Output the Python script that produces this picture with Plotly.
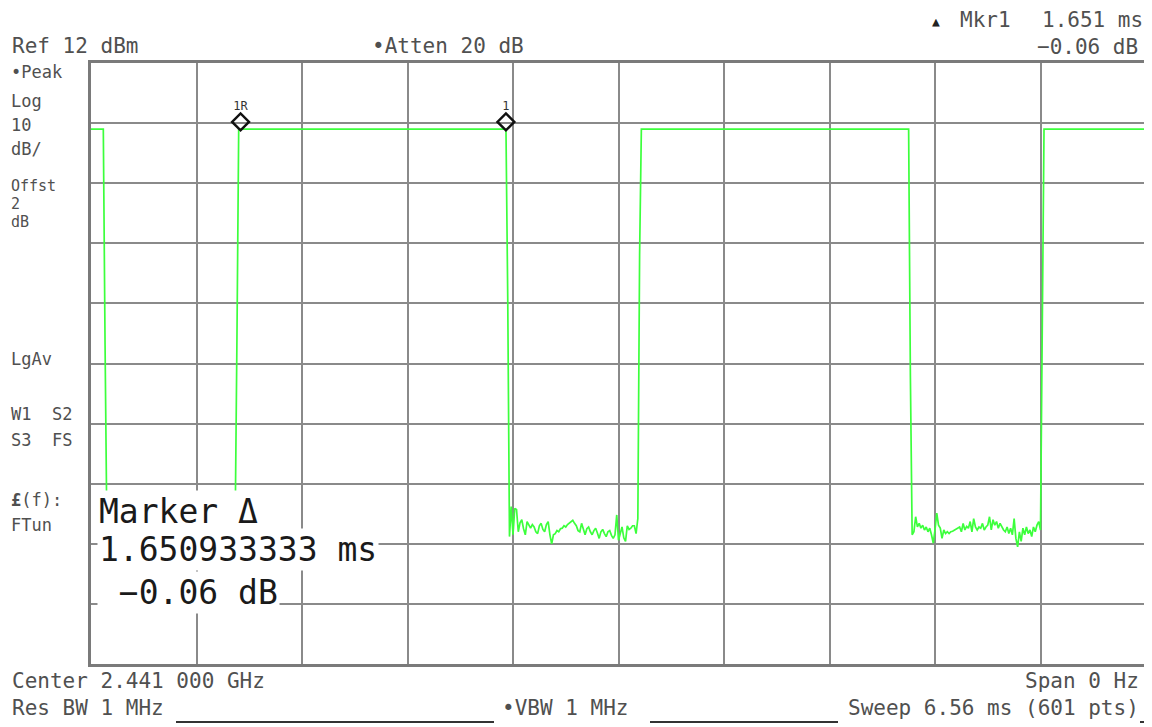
import plotly.graph_objects as go

# sweep settings
sweep_ms = 6.56
n_pts = 601
ref_dbm = 12
db_div = 10

# trace: flat parts and edges (sample index, dBm)
edge_idx = [0, 7, 8, 83, 84, 236, 237, 312, 313, 465, 466, 541, 542, 600]
edge_db = [1.0, 1.0, -35.0, -34.0, 1.0, 1.0, -27.0, -20.0, 1.0, 1.0, -40.0, -36.0, 1.0, 1.0]

# noise floor while the burst is off (start index, values)
noise1_start = 9
noise1_db = [-64.8, -65.9, -63.7, -66.2, -65.1, -64.4, -66.7, -65.3, -64.9, -65.8,
             -66.4, -64.2, -65.6, -67.0, -65.0, -64.6, -65.9, -66.3, -64.7, -65.4,
             -63.9, -66.1, -65.5, -64.8, -66.6, -65.2, -65.9, -64.3, -65.7, -66.9,
             -65.1, -64.5, -66.0, -65.3, -67.3, -64.9, -65.6, -66.2, -64.1, -65.8,
             -65.0, -66.5, -64.7, -65.4, -66.8, -65.2, -63.6, -65.9, -66.3, -64.8,
             -65.5, -66.0, -64.6, -65.3, -67.1, -65.7, -64.4, -66.2, -65.0, -65.8,
             -64.9, -66.4, -65.1, -63.9, -66.7, -65.5, -64.8, -66.1, -65.3, -64.5,
             -65.9, -66.6, -65.2, -64.7]
noise2_start = 238
noise2_db = [-66.8, -61.8, -66.5, -62.1, -62.3, -66.0, -64.5, -64.0, -65.5, -66.5,
             -64.3, -65.0, -65.4, -64.8, -65.2, -66.0, -66.3, -65.0, -64.6, -65.6,
             -66.0, -64.8, -64.3, -66.5, -68.0, -66.5, -66.3, -65.8, -66.0, -65.5,
             -65.4, -65.0, -65.2, -64.8, -64.6, -64.3, -64.1, -64.6, -65.0, -65.8,
             -66.0, -64.6, -65.6, -66.5, -65.5, -65.2, -66.0, -66.5, -65.8, -65.4,
             -66.2, -67.1, -66.0, -65.6, -66.3, -66.8, -66.0, -65.8, -66.6, -67.1,
             -66.5, -63.2, -67.4, -66.0, -65.2, -67.0, -67.6, -65.0, -65.6, -65.4,
             -65.0, -65.0, -66.3, -63.8]
noise3_start = 467
noise3_db = [-66.5, -66.0, -63.5, -65.2, -64.6, -65.4, -64.9, -65.7, -65.2, -66.0,
             -65.4, -66.5, -67.9, -65.7, -62.9, -64.9, -65.4, -67.1, -65.7, -66.3,
             -66.0, -66.3, -66.0, -65.9, -65.7, -65.6, -65.4, -65.2, -66.0, -64.6,
             -65.7, -65.1, -65.4, -64.3, -66.0, -63.8, -65.2, -65.7, -65.2, -65.4,
             -64.6, -65.7, -65.2, -64.9, -63.5, -65.7, -64.0, -64.9, -64.3, -65.4,
             -64.6, -65.2, -65.7, -66.0, -65.2, -66.3, -65.4, -66.5, -63.8, -67.1,
             -68.5, -66.0, -67.6, -65.4, -66.5, -65.2, -66.3, -65.7, -66.8, -65.2,
             -66.0, -64.9, -64.3, -65.7]

# markers
marker_t = [0.93, 2.58]
marker_db = [2.2, 2.2]
marker_lbl = ["1R", "1"]

pts = dict(zip(edge_idx, edge_db))
for start, vals in [(noise1_start, noise1_db), (noise2_start, noise2_db), (noise3_start, noise3_db)]:
    for k, v in enumerate(vals):
        pts[start + k] = v
idx = sorted(pts)
t = [i * sweep_ms / (n_pts - 1) for i in idx]
db = [pts[i] for i in idx]

# plot area in page pixels (page body has an 8px margin)
L, R, T, B = 91, 1146, 63, 664
W, H = 1152, 727
OFF = 8


def px(x):
    return (x - L) / (R - L)


def py(y):
    return (B - y) / (B - T)


fig = go.Figure()
fig.add_trace(go.Scatter(x=t, y=db, mode="lines",
                         line=dict(color="#3cff3c", width=1.7), hoverinfo="skip"))
fig.add_trace(go.Scatter(x=marker_t, y=marker_db, mode="markers+text",
                         text=marker_lbl, textposition="top center",
                         textfont=dict(family="DejaVu Sans Mono", size=12, color="#333"),
                         marker=dict(symbol="diamond-open", size=13, color="#111",
                                     line=dict(width=2.5, color="#111"))))

grey = "#505050"
mono = "DejaVu Sans Mono"
ann = []


def label(x, y, s, size=21, color=grey, anchor="left", bg=None):
    a = dict(xref="paper", yref="paper", x=px(x), y=py(y), text=s, showarrow=False,
             xanchor=anchor, yanchor="middle", font=dict(family=mono, size=size, color=color))
    if bg:
        a.update(bgcolor=bg, borderpad=1)
    ann.append(a)


label(10, 46, "Ref 12 dBm")
label(370, 46, "•Atten 20 dB")
label(930, 21, "▲", size=13, color="#222")
label(958, 20, "Mkr1")
label(1145, 20, "1.651 ms", anchor="right")
label(1140, 47, "−0.06 dB", anchor="right")
left_col = [("•Peak", 72, 17), ("Log", 101, 17), ("10", 125, 17), ("dB/", 149, 17),
            ("Offst", 186, 15), ("2", 204, 15), ("dB", 222, 15), ("LgAv", 359, 17),
            ("W1  S2", 414, 17), ("S3  FS", 440, 17), ("<b>£</b>(f):", 500, 17),
            ("FTun", 525, 17)]
for s, y, sz in left_col:
    label(9, y, s, size=sz)
label(10, 681, "Center 2.441 000 GHz")
label(10, 708, "Res BW 1 MHz")
label(500, 708, "•VBW 1 MHz")
label(1141, 681, "Span 0 Hz", anchor="right")
label(1141, 708, "Sweep 6.56 ms (601 pts)", anchor="right")

label(97, 511, "Marker Δ", size=33, color="#1a1a1a", bg="white")
label(97, 549, "1.650933333 ms", size=33, color="#1a1a1a", bg="white")
label(97, 592, "\u00a0−0.06 dB", size=33, color="#1a1a1a", bg="white")

shapes = []
for x0, x1 in [(176, 494), (650, 838), (1140, 1148)]:
    shapes.append(dict(type="line", xref="paper", yref="paper", x0=px(x0), x1=px(x1),
                       y0=py(722), y1=py(722), line=dict(color="#333", width=2)))

fig.update_layout(
    width=W, height=H, showlegend=False,
    margin=dict(l=L - OFF, r=W + OFF - R, t=T - OFF, b=H + OFF - B),
    paper_bgcolor="white", plot_bgcolor="white",
    annotations=ann, shapes=shapes,
    xaxis=dict(range=[0, sweep_ms], dtick=sweep_ms / 10, tick0=0, showticklabels=False,
               ticks="", showgrid=True, gridcolor="#8a8a8a", gridwidth=1.5, zeroline=False,
               showline=True, linecolor="#7a7a7a", linewidth=3, mirror=True, fixedrange=True),
    yaxis=dict(range=[ref_dbm - 10 * db_div, ref_dbm], dtick=db_div, tick0=ref_dbm,
               showticklabels=False, ticks="", showgrid=True, gridcolor="#8a8a8a",
               gridwidth=1.5, zeroline=False, showline=True, linecolor="#7a7a7a",
               linewidth=3, mirror=True, fixedrange=True),
)

fig.write_html("out.html")
